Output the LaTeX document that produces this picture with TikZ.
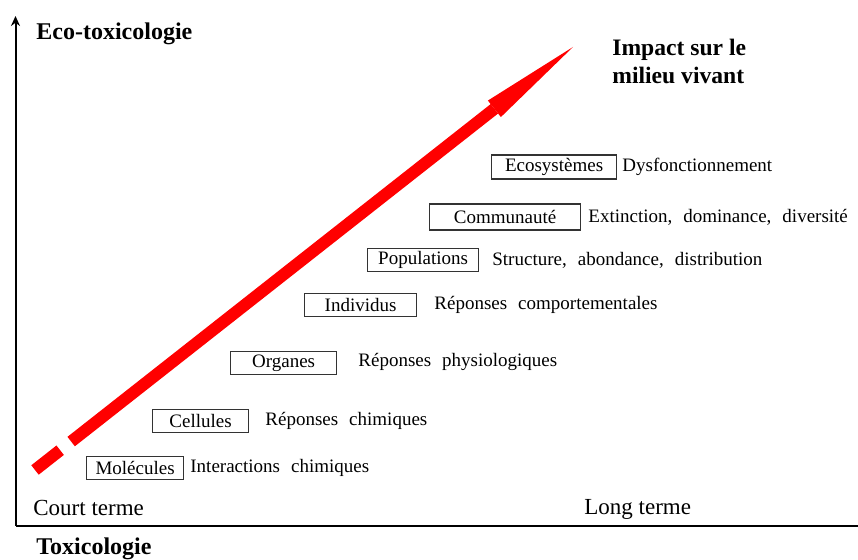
\documentclass[tikz,border=0pt]{standalone}
\usepackage{fontspec}
\setmainfont{Liberation Serif}
\usetikzlibrary{arrows.meta}

\newcommand{\widesp}{\spaceskip=0.58em plus 0pt minus 0pt\relax}

\tikzset{
  lvl/.style={draw=black!80, line width=0.6pt, inner sep=0pt, minimum height=11.5pt, anchor=west, font=\fontsize{9.5}{11}\selectfont},
  resp/.style={anchor=west, inner sep=0pt, font=\fontsize{9.5}{11}\selectfont, execute at begin node=\widesp},
  title/.style={anchor=west, inner sep=0pt, font=\fontsize{12}{14}\selectfont\bfseries},
  term/.style={anchor=west, inner sep=0pt, font=\fontsize{11.5}{13}\selectfont},
}

\begin{document}
\begin{tikzpicture}[x=0.5pt, y=-0.5pt]
\useasboundingbox (0,0) rectangle (858,560);

\def\xaxis{15.5};
\def\yaxis{526};

% axes
\coordinate (o) at (\xaxis, \yaxis);
\coordinate (top) at (\xaxis, 16);
\coordinate (end) at (858, \yaxis);
\draw[line width=1pt, -{Stealth[length=5pt, width=4.5pt]}] (o) -- (top);
\draw[line width=1pt] (o) -- (end);

\node[title] (eco) at (36, 34) {Eco-toxicologie};
\node[title] (tox) at (36, 549) {Toxicologie};
\node[term] (court) at (33, 508) {Court terme};
\node[term] (long) at (584, 509) {Long terme};
\node[anchor=north west, inner sep=0pt, align=left, font=\fontsize{11.8}{14}\selectfont\bfseries] (imp) at (612, 39) {Impact sur le\\milieu vivant};

% red arrow
\coordinate (s) at (35, 470);
\coordinate (t) at (573, 47);
\draw[red, line width=6pt, dash pattern=on 16pt off 7pt on 2000pt, -{Triangle[length=50pt, width=10.5pt, line width=0pt]}] (s) -- (t);

% levels
\node[lvl, minimum width=48.5pt] (mol) at (86, 468) {Molécules};
\node[resp] (rmol) at (190, 468) {Interactions chimiques};

\node[lvl, minimum width=48pt] (cel) at (152, 421) {Cellules};
\node[resp] (rcel) at (265, 421) {Réponses chimiques};

\node[lvl, minimum width=53pt] (org) at (230, 363) {Organes};
\node[resp] (rorg) at (358, 362) {Réponses physiologiques};

\node[lvl, minimum width=56pt] (ind) at (304, 305) {Individus};
\node[resp] (rind) at (434, 305) {Réponses comportementales};

\node[lvl, minimum width=55.5pt] (pop) at (367, 260) {Populations};
\node[resp] (rpop) at (492, 260) {Structure, abondance, distribution};

\node[lvl, minimum width=75.5pt, minimum height=13pt] (com) at (429, 217) {Communauté};
\node[resp] (rcom) at (588, 217) {Extinction, dominance, diversité};

\node[lvl, minimum width=62.5pt, minimum height=12pt] (ecs) at (491, 167) {Ecosystèmes};
\node[resp] (reco) at (622, 167) {Dysfonctionnement};

\end{tikzpicture}
\end{document}
